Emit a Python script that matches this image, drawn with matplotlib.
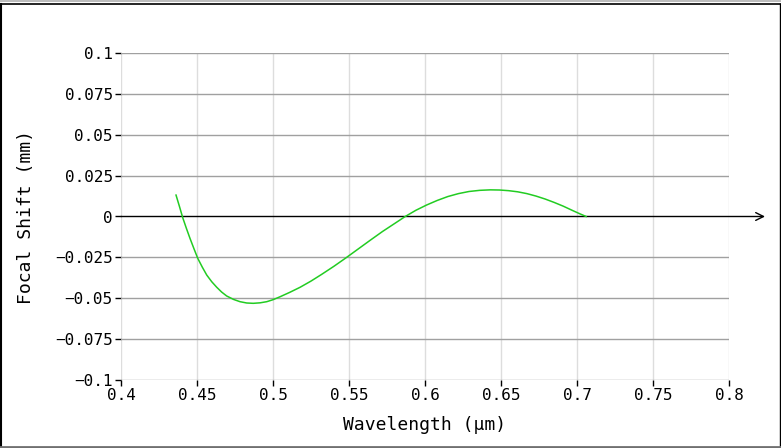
import matplotlib
matplotlib.use("Agg")
import matplotlib.pyplot as plt
from matplotlib.lines import Line2D

# Data
wavelength = [0.4362, 0.4385, 0.4406, 0.4430, 0.4454, 0.4480, 0.4505, 0.4535, 0.4564, 0.4597,
              0.4630, 0.4662, 0.4695, 0.4740, 0.4783, 0.4827, 0.4870, 0.4915, 0.4959, 0.5000,
              0.5046, 0.5110, 0.5178, 0.5250, 0.5320, 0.5400, 0.5480, 0.5560, 0.5640, 0.5720,
              0.5800, 0.5870, 0.5940, 0.6010, 0.6080, 0.6150, 0.6220, 0.6290, 0.6360, 0.6430,
              0.6490, 0.6550, 0.6610, 0.6670, 0.6730, 0.6790, 0.6850, 0.6910, 0.6970, 0.7020,
              0.7060]
focal_shift = [0.0131, 0.0060, -0.0007, -0.0072, -0.0134, -0.0197, -0.0256, -0.0310, -0.0358, -0.0399,
               -0.0433, -0.0462, -0.0486, -0.0507, -0.0521, -0.0529, -0.0531, -0.0528, -0.0521, -0.0509,
               -0.0491, -0.0464, -0.0433, -0.0395, -0.0354, -0.0305, -0.0253, -0.0199, -0.0145, -0.0092,
               -0.0043, 0.0000, 0.0038, 0.0070, 0.0098, 0.0122, 0.0140, 0.0153, 0.0160, 0.0163,
               0.0162, 0.0158, 0.0151, 0.0140, 0.0125, 0.0107, 0.0086, 0.0063, 0.0037, 0.0016,
               0.0000]

x_ticks = [0.4, 0.45, 0.5, 0.55, 0.6, 0.65, 0.7, 0.75, 0.8]
x_labels = ["0.4", "0.45", "0.5", "0.55", "0.6", "0.65", "0.7", "0.75", "0.8"]
y_ticks = [0.1, 0.075, 0.05, 0.025, 0, -0.025, -0.05, -0.075, -0.1]
y_labels = ["0.1", "0.075", "0.05", "0.025", "0", "\u22120.025", "\u22120.05", "\u22120.075", "\u22120.1"]

FONT = "DejaVu Sans Mono"
W, H = 781, 448
fig = plt.figure(figsize=(W / 100, H / 100), dpi=100)
ax = fig.add_axes([121 / W, (H - 380) / H, 608 / W, 327 / H])
ax.set_xlim(0.4, 0.8)
ax.set_ylim(-0.1, 0.1)
for s in ax.spines.values():
    s.set_visible(False)

# grid
for xv in x_ticks:
    ax.axvline(xv, color="#dddddd", lw=1.0, zorder=1)
for yv in y_ticks:
    if yv != 0:
        ax.axhline(yv, color="#a0a0a0", lw=1.0, zorder=2)

# zero axis with arrow
ax.annotate("", xy=(0.8237, 0), xytext=(0.4, 0), xycoords="data",
            arrowprops=dict(arrowstyle="->", color="black", lw=1.0,
                            mutation_scale=14, shrinkA=0, shrinkB=0),
            annotation_clip=False, zorder=3)

ax.plot(wavelength, focal_shift, color="#22cc22", lw=1.1, zorder=4,
        solid_joinstyle="round")

ax.set_xticks(x_ticks)
ax.set_xticklabels(x_labels, fontfamily=FONT, fontsize=11.5)
ax.set_yticks(y_ticks)
ax.set_yticklabels(y_labels, fontfamily=FONT, fontsize=11.5)
ax.tick_params(axis="both", direction="out", length=4, width=1, color="black", pad=2)

ax.set_xlabel("Wavelength (\u03bcm)", fontfamily=FONT, fontsize=13, labelpad=9)
ax.set_ylabel("Focal Shift (mm)", fontfamily=FONT, fontsize=13, labelpad=14)

# window frame
def fline(x0, y0, x1, y1, color, lw):
    fig.add_artist(Line2D([x0 / W, x1 / W], [1 - y0 / H, 1 - y1 / H],
                          color=color, lw=lw, transform=fig.transFigure))

fline(0, 1, W, 1, "#b0b0b0", 1.2)
fline(0, 4.5, W, 4.5, "black", 1.2)
fline(0.7, 4.5, 0.7, 446, "black", 1.5)
fline(779.5, 4.5, 779.5, 446, "black", 1.0)
fline(0, 446.5, W, 446.5, "#707070", 2.0)

fig.savefig("out.png", dpi=100)
